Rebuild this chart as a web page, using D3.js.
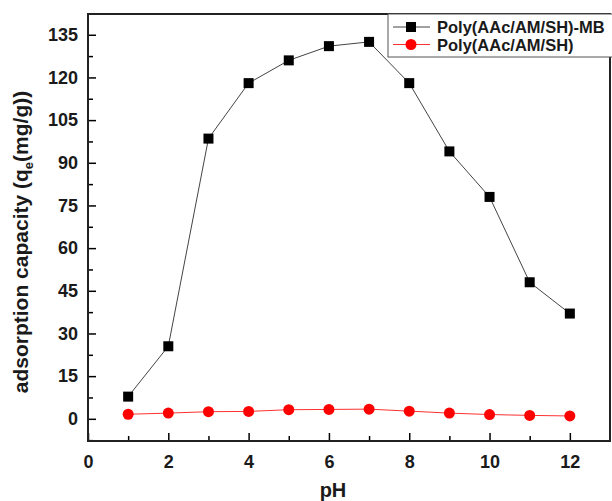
<!DOCTYPE html>
<html>
<head>
<meta charset="utf-8">
<script src="https://cdn.jsdelivr.net/npm/d3@7"></script>
<style>
  body { margin: 0; background: #fff; }
  text { font-family: "Liberation Sans", Arial, sans-serif; font-weight: bold; }
</style>
</head>
<body>
<svg id="chart" width="612" height="501"></svg>
<script>
const pH = [1, 2, 3, 4, 5, 6, 7, 8, 9, 10, 11, 12];
const withMB = [7.8, 25.5, 98.5, 118, 126, 131, 132.5, 118, 94, 78, 48, 37];
const withoutMB = [1.6, 2.0, 2.5, 2.6, 3.2, 3.3, 3.4, 2.7, 2.0, 1.5, 1.2, 1.0];
const xTicks = [0, 2, 4, 6, 8, 10, 12];
const yTicks = [0, 15, 30, 45, 60, 75, 90, 105, 120, 135];
const seriesNames = ["Poly(AAc/AM/SH)-MB", "Poly(AAc/AM/SH)"];

const svg = d3.select("#chart");
const margin = { left: 88, top: 14, right: 2, bottom: 60 };
const W = 612, H = 501;

const x = d3.scaleLinear().domain([0, 13]).range([margin.left, W - margin.right]);
const y = d3.scaleLinear().domain([-7.8, 142.3]).range([H - margin.bottom, margin.top]);

// x axis (ticks inward)
const xAxis = svg.append("g")
    .attr("transform", `translate(0,${H - margin.bottom})`)
    .call(d3.axisBottom(x).tickValues(xTicks).tickSize(-8).tickPadding(14).tickFormat(d3.format("d")));
xAxis.select(".domain").remove();
xAxis.selectAll("text").attr("font-size", 18).attr("fill", "#1a1a1a");
xAxis.selectAll("line").attr("stroke-width", 1.5);
svg.append("g")
    .attr("transform", `translate(0,${H - margin.bottom})`)
    .call(d3.axisBottom(x).tickValues(d3.range(1, 13, 2)).tickSize(-5).tickFormat(""))
    .call(g => g.select(".domain").remove())
    .selectAll("line").attr("stroke-width", 1.5);

// y axis
const yAxis = svg.append("g")
    .attr("transform", `translate(${margin.left},0)`)
    .call(d3.axisLeft(y).tickValues(yTicks).tickSize(-8).tickPadding(10));
yAxis.select(".domain").remove();
yAxis.selectAll("text").attr("font-size", 18).attr("fill", "#1a1a1a");
yAxis.selectAll("line").attr("stroke-width", 1.5);
svg.append("g")
    .attr("transform", `translate(${margin.left},0)`)
    .call(d3.axisLeft(y).tickValues(d3.range(-7.5, 142, 15)).tickSize(-5).tickFormat(""))
    .call(g => g.select(".domain").remove())
    .selectAll("line").attr("stroke-width", 1.5);

// frame
svg.append("rect")
    .attr("x", margin.left).attr("y", margin.top)
    .attr("width", W - margin.right - margin.left)
    .attr("height", H - margin.bottom - margin.top)
    .attr("fill", "none").attr("stroke", "#222").attr("stroke-width", 2);

// axis titles
svg.append("text")
    .attr("x", 333)
    .attr("y", 497)
    .attr("text-anchor", "middle")
    .attr("font-size", 20)
    .attr("fill", "#1a1a1a")
    .text("pH");

const yt = svg.append("text")
    .attr("transform", `translate(28,242) rotate(-90)`)
    .attr("text-anchor", "middle")
    .attr("font-size", 21)
    .attr("fill", "#1a1a1a");
yt.append("tspan").text("adsorption capacity (q");
yt.append("tspan").attr("font-size", 13).attr("dy", 5).text("e");
yt.append("tspan").attr("dy", -5).text("(mg/g))");

const line = d3.line().x(d => x(d[0])).y(d => y(d[1]));

// MB series
const mb = pH.map((p, i) => [p, withMB[i]]);
svg.append("path").datum(mb)
    .attr("d", line).attr("fill", "none").attr("stroke", "#444").attr("stroke-width", 1);
svg.append("g").selectAll("rect").data(mb).join("rect")
    .attr("x", d => x(d[0]) - 5).attr("y", d => y(d[1]) - 5)
    .attr("width", 10).attr("height", 10).attr("fill", "#000");

// without MB
const noMb = pH.map((p, i) => [p, withoutMB[i]]);
svg.append("path").datum(noMb)
    .attr("d", line).attr("fill", "none").attr("stroke", "#ff3030").attr("stroke-width", 1);
svg.append("g").selectAll("circle").data(noMb).join("circle")
    .attr("cx", d => x(d[0])).attr("cy", d => y(d[1])).attr("r", 5.5).attr("fill", "#ff0000");

// legend
const lg = svg.append("g");
lg.append("rect")
    .attr("x", 388).attr("y", 14).attr("width", 230).attr("height", 43)
    .attr("fill", "#fff").attr("stroke", "#555").attr("stroke-width", 1);
seriesNames.forEach((name, i) => {
    const cy = 27 + i * 17.5;
    lg.append("line").attr("x1", 393).attr("x2", 430).attr("y1", cy).attr("y2", cy)
        .attr("stroke", i === 0 ? "#444" : "#ff3030").attr("stroke-width", 1);
    if (i === 0) {
        lg.append("rect").attr("x", 406).attr("y", cy - 5).attr("width", 10).attr("height", 10).attr("fill", "#000");
    } else {
        lg.append("circle").attr("cx", 411).attr("cy", cy).attr("r", 5.5).attr("fill", "#ff0000");
    }
    lg.append("text").attr("x", 437).attr("y", cy + 6).attr("font-size", 16.5).attr("fill", "#1a1a1a").text(name);
});
</script>
</body>
</html>
